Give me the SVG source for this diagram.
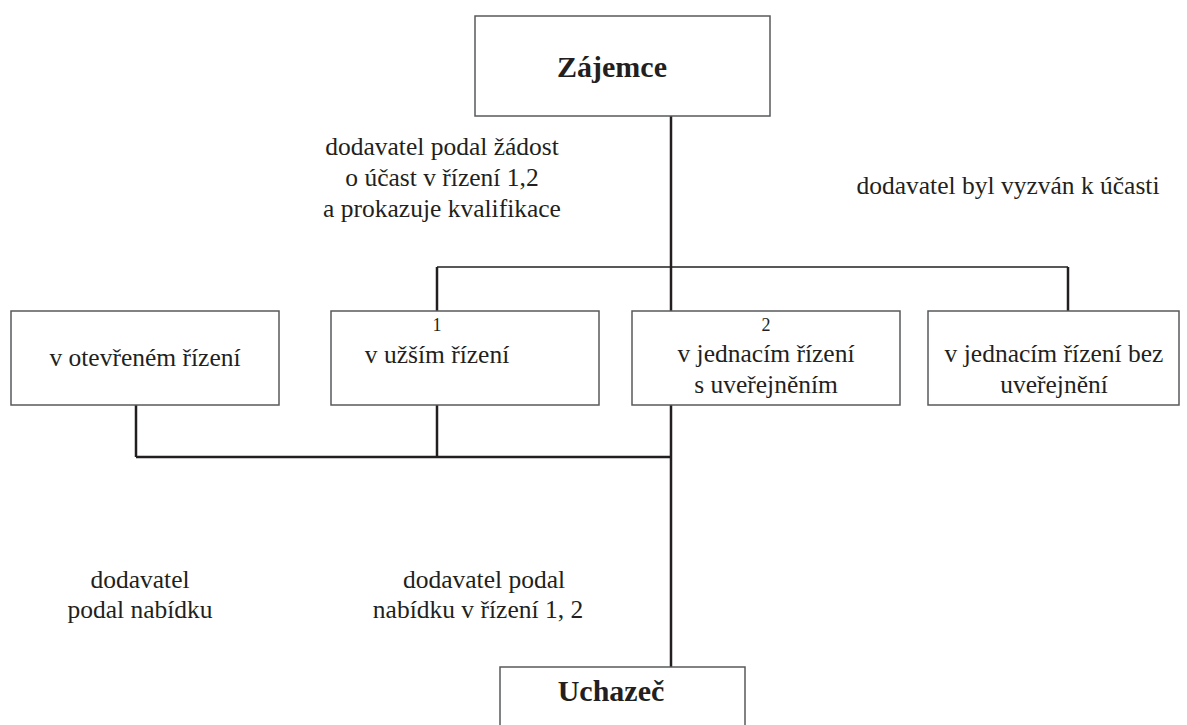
<svg xmlns="http://www.w3.org/2000/svg" width="1187" height="725" viewBox="0 0 1187 725">
  <style>
    .box { fill: #ffffff; stroke: #58595b; stroke-width: 1.5; }
    .wire { fill: none; stroke: #231f20; stroke-width: 2.5; }
    .wire-thin { fill: none; stroke: #231f20; stroke-width: 1.6; }
    text { font-family: "Liberation Serif", "Times New Roman", serif; fill: #231f20; text-anchor: middle; }
    .title { font-size: 30px; font-weight: bold; }
    .lbl { font-size: 25.5px; }
    .num { font-size: 18px; }
  </style>
  <rect width="1187" height="725" fill="#ffffff"/>

  <!-- connectors -->
  <g id="connectors">
    <line class="wire" x1="671" y1="116" x2="671" y2="267"/>
    <line class="wire-thin" x1="437" y1="267" x2="1068" y2="267"/>
    <line class="wire" x1="437" y1="267" x2="437" y2="311"/>
    <line class="wire" x1="1068" y1="267" x2="1068" y2="311"/>
    <line class="wire" x1="671" y1="267" x2="671" y2="311"/>
    <line class="wire" x1="136" y1="405" x2="136" y2="457"/>
    <line class="wire" x1="437" y1="405" x2="437" y2="457"/>
    <line class="wire" x1="136" y1="457" x2="671" y2="457"/>
    <line class="wire" x1="671" y1="405" x2="671" y2="667"/>
  </g>

  <!-- edge labels -->
  <g id="labels">
    <text class="lbl" x="442" y="155">dodavatel podal žádost</text>
    <text class="lbl" x="442" y="186">o účast v řízení 1,2</text>
    <text class="lbl" x="442" y="217">a prokazuje kvalifikace</text>
    <text class="lbl" x="1008" y="194">dodavatel byl vyzván k účasti</text>
    <text class="lbl" x="140" y="588">dodavatel</text>
    <text class="lbl" x="140" y="618">podal nabídku</text>
    <text class="lbl" x="484" y="588">dodavatel podal</text>
    <text class="lbl" x="478" y="618">nabídku v řízení 1, 2</text>
  </g>

  <g id="zajemce">
    <rect class="box" x="475" y="16" width="295" height="100"/>
    <text class="title" x="612" y="77">Zájemce</text>
  </g>

  <g id="otevrene">
    <rect class="box" x="11" y="311" width="268" height="94"/>
    <text class="lbl" x="145" y="366">v otevřeném řízení</text>
  </g>

  <g id="uzsi">
    <rect class="box" x="331" y="311" width="268" height="94"/>
    <text class="num" x="437" y="331">1</text>
    <text class="lbl" x="437" y="363">v užším řízení</text>
  </g>

  <g id="jednaci-s">
    <rect class="box" x="632" y="311" width="268" height="94"/>
    <text class="num" x="766" y="331">2</text>
    <text class="lbl" x="766" y="362">v jednacím řízení</text>
    <text class="lbl" x="766" y="393">s uveřejněním</text>
  </g>

  <g id="jednaci-bez">
    <rect class="box" x="928" y="311" width="251" height="94"/>
    <text class="lbl" x="1054" y="362">v jednacím řízení bez</text>
    <text class="lbl" x="1054" y="393">uveřejnění</text>
  </g>

  <g id="uchazec">
    <rect class="box" x="500" y="667" width="245" height="100"/>
    <text class="title" x="611" y="701">Uchazeč</text>
  </g>
</svg>
